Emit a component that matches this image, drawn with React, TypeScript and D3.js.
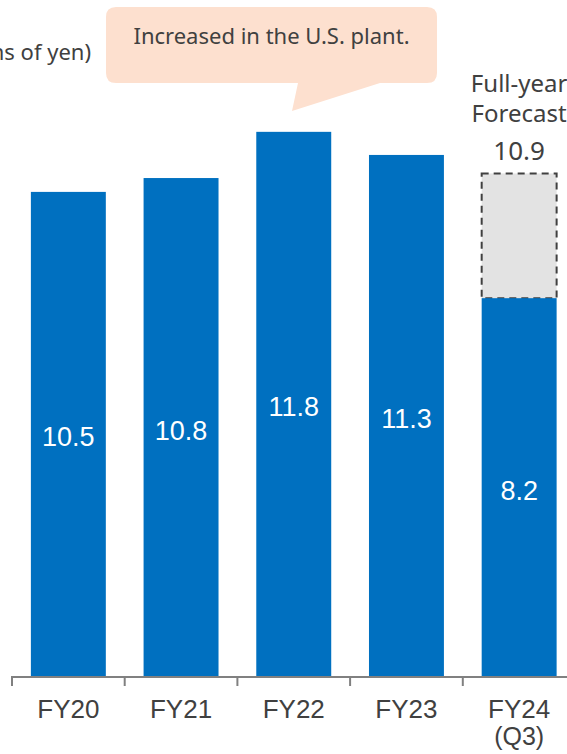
import * as d3 from "d3";

const categories = ["FY20", "FY21", "FY22", "FY23", "FY24"];
const subLabels = ["", "", "", "", "(Q3)"];
const actuals = [10.5, 10.8, 11.8, 11.3, 8.2];
const forecastValue = 10.9;
const forecastIndex = 4;
const unitLabel = "(Billions of yen)";
const calloutText = "Increased in the U.S. plant.";
const forecastLines = ["Full-year", "Forecast"];

const W = 567;
const H = 754;
const baseY = 677;
const pxPerUnit = 46.2;

export default function App() {
  const x = d3
    .scaleBand<string>()
    .domain(categories)
    .range([12, 12 + 112.7 * categories.length])
    .paddingInner(0.335)
    .paddingOuter(0.1675);

  const y = d3
    .scaleLinear()
    .domain([0, 1])
    .range([baseY, baseY - pxPerUnit]);

  const step = x.step();
  const bw = x.bandwidth();
  const tickXs = categories.map((_, i) => 12 + i * step);
  const fc = categories[forecastIndex];
  const fcCx = (x(fc) ?? 0) + bw / 2;

  const sans = "'Liberation Sans', Arial, sans-serif";
  const ui = "'Noto Sans', 'Open Sans', sans-serif";
  const textColor = "#404040";

  return (
    <svg
      width={W}
      height={H}
      style={{ position: "absolute", left: 0, top: 0, background: "#fff" }}
    >
      <text x={91} y={60} textAnchor="end" fontFamily={ui} fontSize={22} fill={textColor}>
        {unitLabel}
      </text>

      {/* callout */}
      <path
        d={`M116,7 H427 Q437,7 437,17 V73 Q437,83 427,83 H380 L292,111 L298,83 H116 Q106,83 106,73 V17 Q106,7 116,7 Z`}
        fill="#fde0cf"
      />
      <text x={271.5} y={44} textAnchor="middle" fontFamily={ui} fontSize={22} fill={textColor}>
        {calloutText}
      </text>

      {/* forecast box */}
      <rect
        x={x(fc)}
        y={y(forecastValue)}
        width={bw}
        height={y(actuals[forecastIndex]) - y(forecastValue)}
        fill="#e3e3e3"
        stroke="#404040"
        strokeWidth={2}
        strokeDasharray="7,5"
      />

      {categories.map((c, i) => (
        <g key={c}>
          <rect
            x={x(c)}
            y={y(actuals[i])}
            width={bw}
            height={baseY - y(actuals[i])}
            fill="#0070c0"
          />
          <text
            x={(x(c) ?? 0) + bw / 2}
            y={(y(actuals[i]) + baseY) / 2 + 12}
            textAnchor="middle"
            fontFamily={sans}
            fontSize={27}
            fill="#fff"
          >
            {actuals[i].toFixed(1)}
          </text>
          <text
            x={(x(c) ?? 0) + bw / 2}
            y={718}
            textAnchor="middle"
            fontFamily={sans}
            fontSize={26}
            fill={textColor}
          >
            {c}
          </text>
          {subLabels[i] && (
            <text
              x={(x(c) ?? 0) + bw / 2}
              y={745}
              textAnchor="middle"
              fontFamily={sans}
              fontSize={25}
              fill={textColor}
            >
              {subLabels[i]}
            </text>
          )}
        </g>
      ))}

      {/* forecast labels */}
      {forecastLines.map((t, i) => (
        <text
          key={t}
          x={fcCx}
          y={92 + i * 29.5}
          textAnchor="middle"
          fontFamily={ui}
          fontSize={24}
          fill={textColor}
        >
          {t}
        </text>
      ))}
      <text
        x={fcCx}
        y={160}
        textAnchor="middle"
        fontFamily={ui}
        fontSize={26}
        fill={textColor}
      >
        {forecastValue.toFixed(1)}
      </text>

      {/* axis */}
      <line x1={11} x2={W} y1={baseY} y2={baseY} stroke="#808080" strokeWidth={2} />
      {tickXs.map((tx) => (
        <line key={tx} x1={tx} x2={tx} y1={baseY} y2={baseY + 9} stroke="#808080" strokeWidth={2} />
      ))}
    </svg>
  );
}
